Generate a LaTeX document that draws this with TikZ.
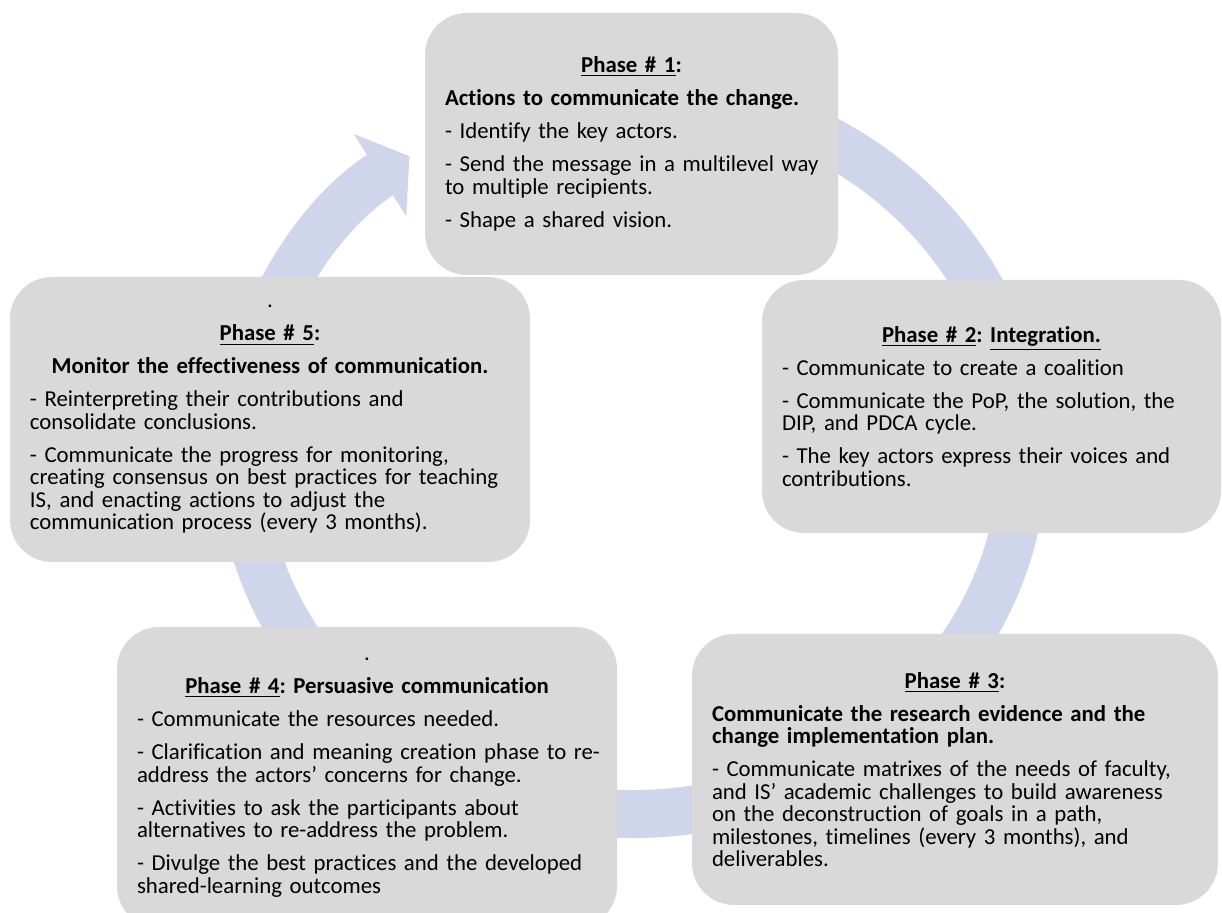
\documentclass[tikz,border=0pt]{standalone}
\usepackage{fontspec}
\setmainfont{Carlito}[Ligatures=NoCommon]
\usetikzlibrary{arrows.meta}
\definecolor{gris}{RGB}{217,217,217}
\definecolor{lila}{RGB}{207,213,234}
\newcommand{\fase}[1]{\underline{Phase \# #1}}
\frenchspacing
\tikzset{
  caja/.style={fill=gris, rounded corners=21pt, inner xsep=10pt, inner ysep=0pt, align=left,
    font=\fontsize{11.4}{11.25}\selectfont,
    execute at begin node={\lineskiplimit=-20pt\parskip=5.25pt\hbadness=10000
      \rightskip=0pt plus 1fil minus 20pt}},
  anillo/.style={draw=lila, line width=24pt, -{Triangle[length=17.5pt, width=48pt]}},
}

\begin{document}
\begin{tikzpicture}[x=0.5pt, y=0.5pt]
  \useasboundingbox (0,0) rectangle (1222,913);
  \draw[anillo] ([shift={(632,460)}]80:391 and 361)
    arc[start angle=80, end angle=-235.3, x radius=391, y radius=361];
  \node[caja, minimum width=206.5pt, minimum height=131pt, text width=186.5pt] (f1) at (631.5,769)
    {{\centering\textbf{\fase{1}:}\par}
     \textbf{Actions to communicate the change.}\par
     - Identify the key actors.\par
     - Send the message in a multilevel way\\ to multiple recipients.\par
     - Shape a shared vision.};
  \node[caja, minimum width=229.5pt, minimum height=126.5pt, text width=209.5pt] (f2) at (991.5,506.5)
    {{\centering\textbf{\fase{2}: \underline{Integration.}}\par}
     - Communicate to create a coalition\par
     - Communicate the PoP, the solution, the\\ DIP, and PDCA cycle.\par
     - The key actors express their voices and\\ contributions.};
  \node[caja, minimum width=263pt, minimum height=135.5pt, text width=243pt] (f3) at (955,143.5)
    {{\centering\textbf{\fase{3}:}\par}
     \textbf{Communicate the research evidence and the\\ change implementation plan.}\par
     - Communicate matrixes of the needs of faculty,\\ and IS’ academic challenges to build awareness\\
     on the deconstruction of goals in a path,\\ milestones, timelines (every 3 months), and\\ deliverables.};
  \node[caja, minimum width=250pt, minimum height=150.5pt, text width=230pt] (f4) at (367,135.5)
    {{\centering .\par \textbf{\fase{4}: Persuasive communication}\par}
     - Communicate the resources needed.\par
     - Clarification and meaning creation phase to re-\\ address the actors’ concerns for change.\par
     - Activities to ask the participants about\\ alternatives to re-address the problem.\par
     - Divulge the best practices and the developed\\ shared-learning outcomes};
  \node[caja, minimum width=260pt, minimum height=142.5pt, text width=240pt] (f5) at (270,493.5)
    {{\centering .\par \textbf{\fase{5}:}\par \textbf{Monitor the effectiveness of communication.}\par}
     - Reinterpreting their contributions and\\ consolidate conclusions.\par
     - Communicate the progress for monitoring,\\ creating consensus on best practices for teaching\\
     IS, and enacting actions to adjust the\\ communication process (every 3 months).};
\end{tikzpicture}
\end{document}
